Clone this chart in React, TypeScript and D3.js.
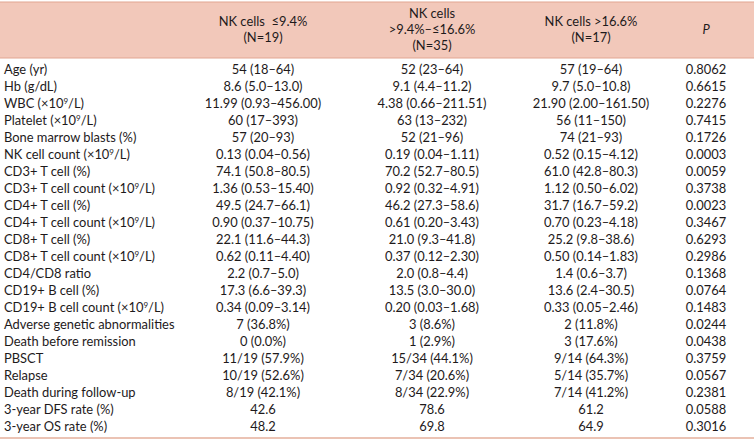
import React, { useEffect } from "react";
import * as d3 from "d3";

const headers: string[][] = [
  ["NK cells  ≤9.4%", "(N=19)"],
  ["NK cells", ">9.4%–≤16.6%", "(N=35)"],
  ["NK cells >16.6%", "(N=17)"],
  ["P"],
];

const labels: string[] = [
  "Age (yr)",
  "Hb (g/dL)",
  "WBC (×10^9/L)",
  "Platelet (×10^9/L)",
  "Bone marrow blasts (%)",
  "NK cell count (×10^9/L)",
  "CD3+ T cell (%)",
  "CD3+ T cell count (×10^9/L)",
  "CD4+ T cell (%)",
  "CD4+ T cell count (×10^9/L)",
  "CD8+ T cell (%)",
  "CD8+ T cell count (×10^9/L)",
  "CD4/CD8 ratio",
  "CD19+ B cell (%)",
  "CD19+ B cell count (×10^9/L)",
  "Adverse genetic abnormalities",
  "Death before remission",
  "PBSCT",
  "Relapse",
  "Death during follow-up",
  "3-year DFS rate (%)",
  "3-year OS rate (%)",
];

const lowGroup: string[] = [
  "54 (18–64)", "8.6 (5.0–13.0)", "11.99 (0.93–456.00)", "60 (17–393)", "57 (20–93)",
  "0.13 (0.04–0.56)", "74.1 (50.8–80.5)", "1.36 (0.53–15.40)", "49.5 (24.7–66.1)",
  "0.90 (0.37–10.75)", "22.1 (11.6–44.3)", "0.62 (0.11–4.40)", "2.2 (0.7–5.0)",
  "17.3 (6.6–39.3)", "0.34 (0.09–3.14)", "7 (36.8%)", "0 (0.0%)", "11/19 (57.9%)",
  "10/19 (52.6%)", "8/19 (42.1%)", "42.6", "48.2",
];

const midGroup: string[] = [
  "52 (23–64)", "9.1 (4.4–11.2)", "4.38 (0.66–211.51)", "63 (13–232)", "52 (21–96)",
  "0.19 (0.04–1.11)", "70.2 (52.7–80.5)", "0.92 (0.32–4.91)", "46.2 (27.3–58.6)",
  "0.61 (0.20–3.43)", "21.0 (9.3–41.8)", "0.37 (0.12–2.30)", "2.0 (0.8–4.4)",
  "13.5 (3.0–30.0)", "0.20 (0.03–1.68)", "3 (8.6%)", "1 (2.9%)", "15/34 (44.1%)",
  "7/34 (20.6%)", "8/34 (22.9%)", "78.6", "69.8",
];

const highGroup: string[] = [
  "57 (19–64)", "9.7 (5.0–10.8)", "21.90 (2.00–161.50)", "56 (11–150)", "74 (21–93)",
  "0.52 (0.15–4.12)", "61.0 (42.8–80.3)", "1.12 (0.50–6.02)", "31.7 (16.7–59.2)",
  "0.70 (0.23–4.18)", "25.2 (9.8–38.6)", "0.50 (0.14–1.83)", "1.4 (0.6–3.7)",
  "13.6 (2.4–30.5)", "0.33 (0.05–2.46)", "2 (11.8%)", "3 (17.6%)", "9/14 (64.3%)",
  "5/14 (35.7%)", "7/14 (41.2%)", "61.2", "64.9",
];

const pValues: string[] = [
  "0.8062", "0.6615", "0.2276", "0.7415", "0.1726", "0.0003", "0.0059", "0.3738",
  "0.0023", "0.3467", "0.6293", "0.2986", "0.1368", "0.0764", "0.1483", "0.0244",
  "0.0438", "0.3759", "0.0567", "0.2381", "0.0588", "0.3016",
];

const W = 754;
const H = 444;
const FONT = "Lato, 'Open Sans', sans-serif";
const FS = 12.9;
const TEXT = "#1e1a1b";

function renderSup(s: string) {
  const parts = s.split("^9");
  if (parts.length === 1) return s;
  return (
    <>
      {parts[0]}
      <tspan dy={-4.5} fontSize={8}>9</tspan>
      <tspan dy={4.5}>{parts[1]}</tspan>
    </>
  );
}

export default function App() {
  useEffect(() => {
    document.body.style.margin = "0";
  }, []);

  const headerTop = 2;
  const headerBottom = 58;
  const tableBottom = 438;

  const y = d3
    .scaleBand<number>()
    .domain(d3.range(labels.length))
    .range([headerBottom + 3, tableBottom - 3]);

  const colKeys = [0, 1, 2, 3];
  const colCenters = [263, 432, 591, 706];
  const x = d3.scaleOrdinal<number, number>().domain(colKeys).range(colCenters);

  const columns = [lowGroup, midGroup, highGroup, pValues];

  return (
    <svg width={W} height={H} style={{ display: "block" }} fontFamily={FONT} fontSize={FS} fill={TEXT}>
      <rect x={0} y={headerTop} width={W} height={headerBottom - headerTop} fill="#f2c8ba" />
      <line x1={0} x2={W} y1={headerTop} y2={headerTop} stroke="#e2a591" strokeWidth={1.2} />
      <line x1={0} x2={W} y1={headerBottom} y2={headerBottom} stroke="#e2a591" strokeWidth={1.2} />
      <line x1={0} x2={W} y1={tableBottom} y2={tableBottom} stroke="#ebc3b4" strokeWidth={2} />

      {headers.map((lines, ci) => {
        const mid = (headerTop + headerBottom) / 2 - 1;
        const lh = 16;
        const start = mid - ((lines.length - 1) * lh) / 2;
        return (
          <text key={ci} textAnchor="middle" fontStyle={ci === 3 ? "italic" : "normal"}>
            {lines.map((ln, li) => (
              <tspan key={li} x={x(ci)} y={start + li * lh} dy="0.35em" xmlSpace="preserve">
                {ln}
              </tspan>
            ))}
          </text>
        );
      })}

      {labels.map((lab, ri) => {
        const cy = (y(ri) as number) + y.bandwidth() / 2;
        return (
          <g key={ri}>
            <text x={4} y={cy} dy="0.35em">
              {renderSup(lab)}
            </text>
            {columns.map((col, ci) => (
              <text key={ci} x={x(ci)} y={cy} dy="0.35em" textAnchor="middle">
                {col[ri]}
              </text>
            ))}
          </g>
        );
      })}
    </svg>
  );
}
